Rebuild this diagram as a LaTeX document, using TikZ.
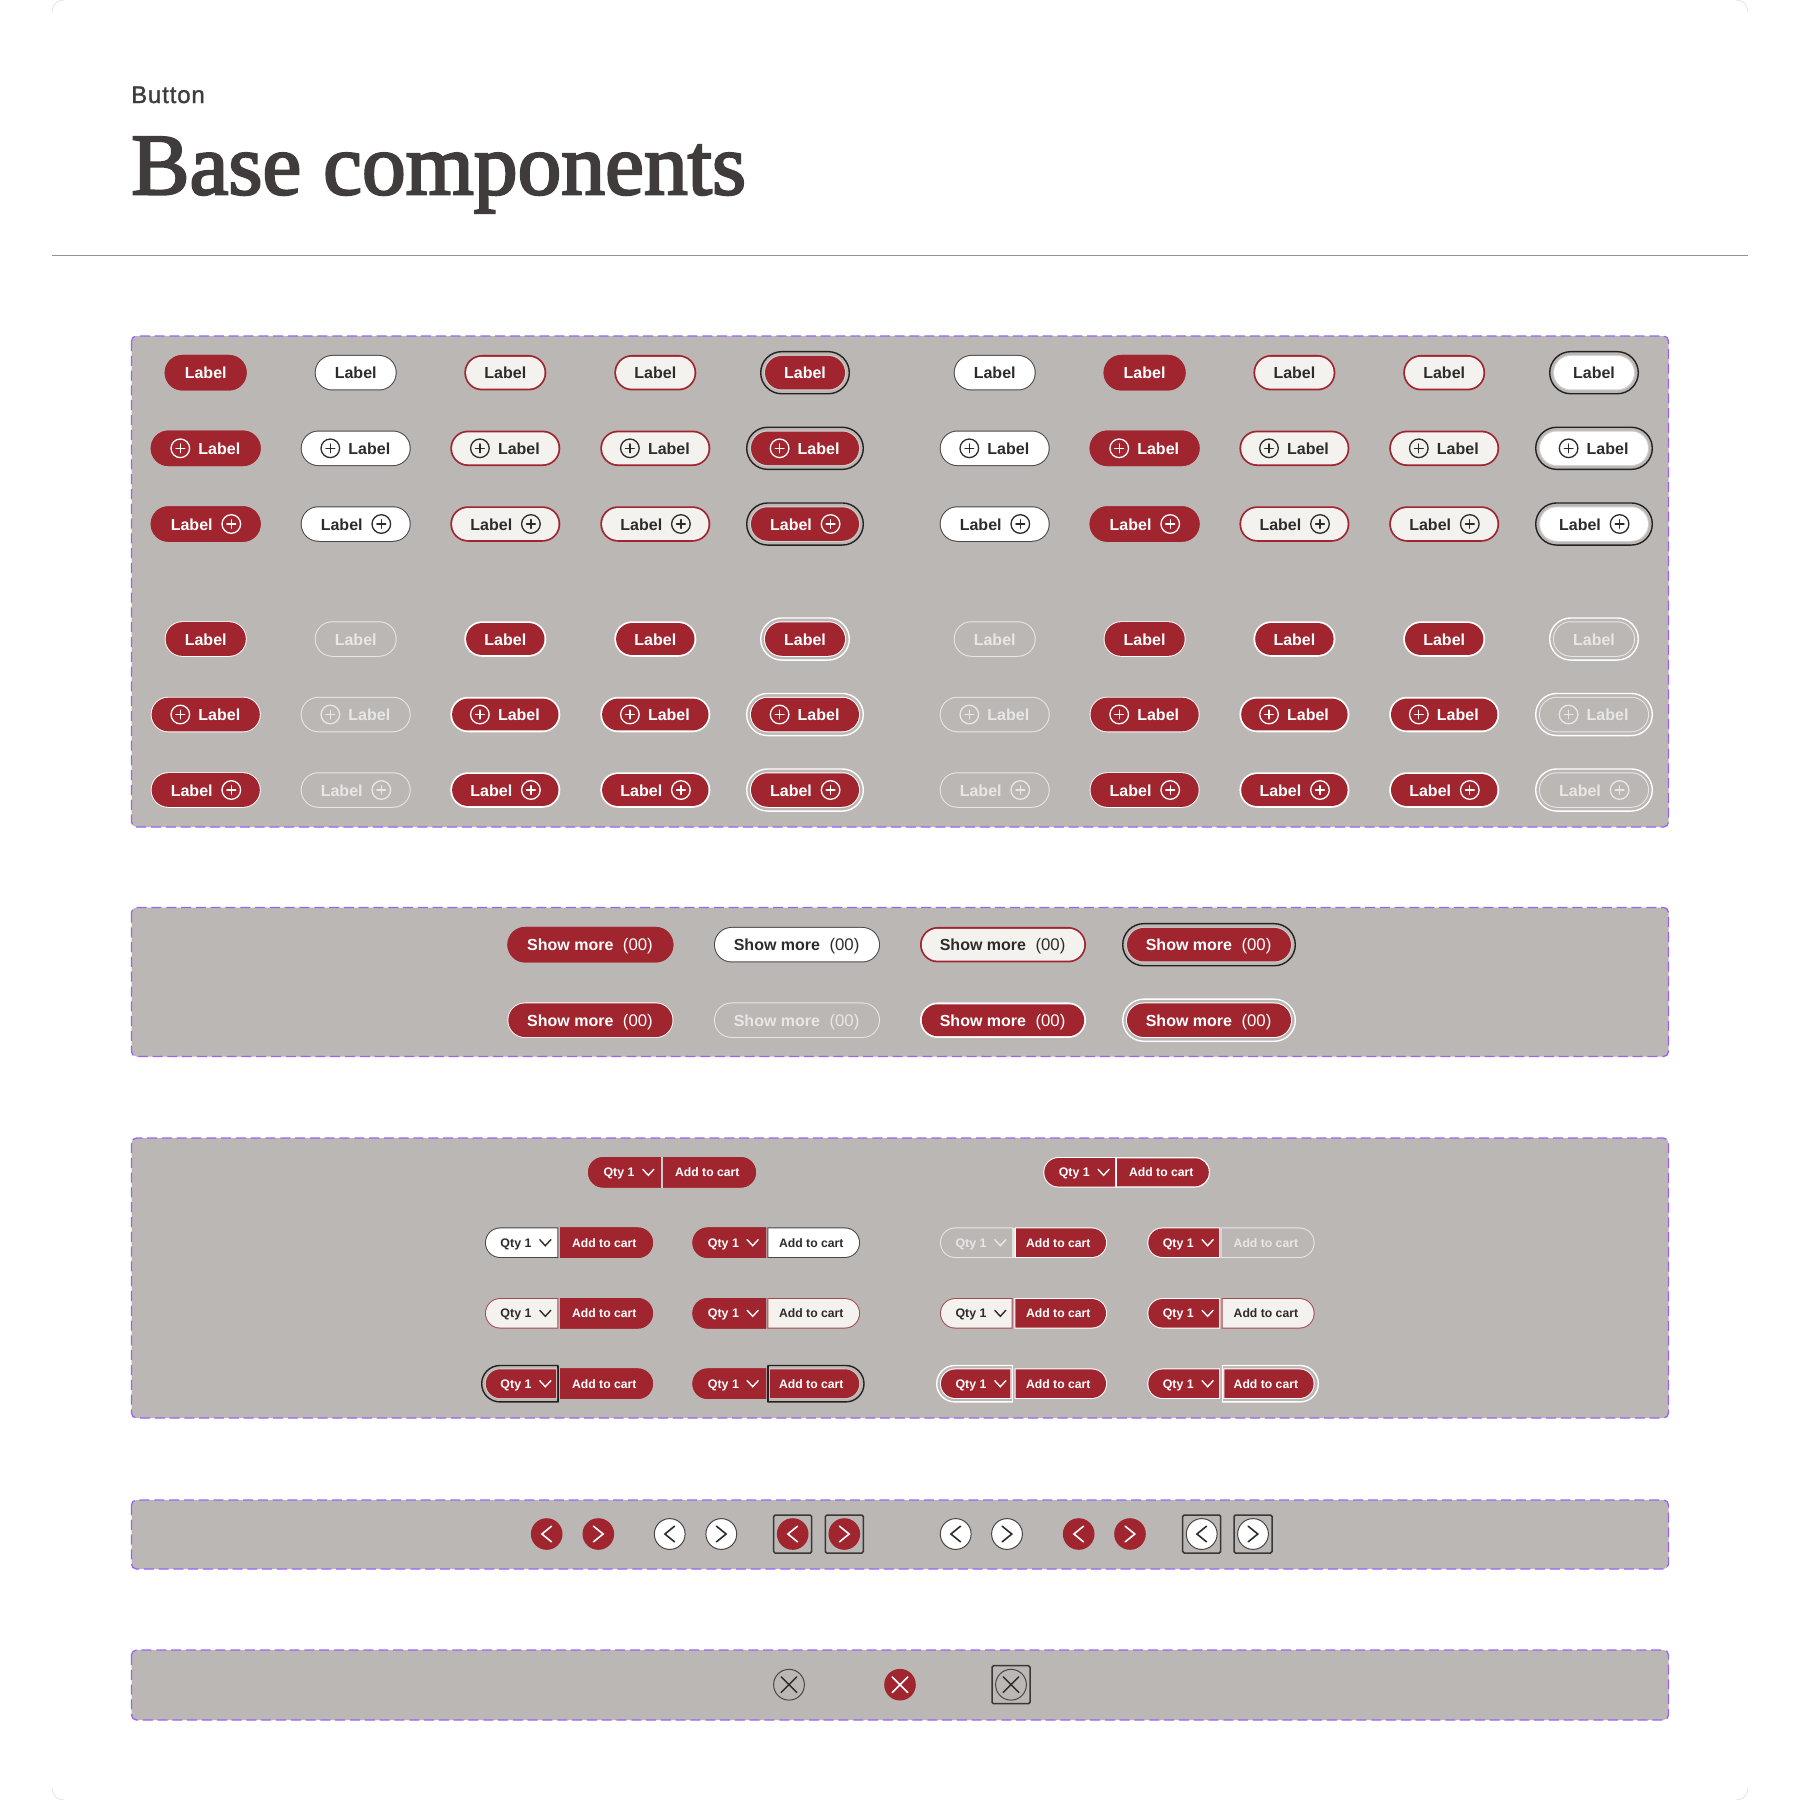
\documentclass[tikz,border=0pt]{standalone}
\usepackage{fontspec}
\setmainfont{Liberation Sans}
\newfontfamily\ttl[FakeBold=2.6]{Liberation Serif}
\newfontfamily\ui{Liberation Sans}
\newfontfamily\kick[FakeBold=1.4,LetterSpace=3.5]{Liberation Sans}
\definecolor{panelc}{HTML}{BBB7B5}
\definecolor{redc}{HTML}{A0252F}
\definecolor{darkb}{HTML}{4A4646}
\definecolor{darkt}{HTML}{2E2B2B}
\definecolor{offc}{HTML}{F3F2EF}
\definecolor{disc}{HTML}{E9E7E6}
\definecolor{dashc}{HTML}{9B63F5}
\definecolor{gapc}{HTML}{D2CFCE}
\definecolor{ringd}{HTML}{242121}
\definecolor{ttlc}{HTML}{403C3B}
\newcounter{nn}
\tikzset{
  panelbox/.style={fill=panelc,draw=dashc,line width=1.3pt,dash pattern=on 10pt off 4.8pt,rounded corners=5pt},
  txt/.style={inner sep=0pt,anchor=base},
  iconline/.style={line width=1.3pt,line cap=round},
  chev/.style={line width=1.4pt,line cap=round,line join=miter},
}
% rounded pill from corners
\newcommand\rr[5]{\pgfmathsetmacro\rrad{((#5)-(#3))/2-0.02}\path[#1,rounded corners=\rrad pt](#2,#3) rectangle (#4,#5);}
% border colour, fill colour, border width, cx, cy, w, h
\newcommand\pillb[7]{%
  \pgfmathsetmacro\xa{#4-#6/2}\pgfmathsetmacro\xb{#4+#6/2}%
  \pgfmathsetmacro\ya{#5-#7/2}\pgfmathsetmacro\yb{#5+#7/2}%
  \rr{fill=#1}{\xa}{\ya}{\xb}{\yb}%
  \pgfmathsetmacro\xa{\xa+#3}\pgfmathsetmacro\xb{\xb-#3}%
  \pgfmathsetmacro\ya{\ya+#3}\pgfmathsetmacro\yb{\yb-#3}%
  \rr{fill=#2}{\xa}{\ya}{\xb}{\yb}}
% ring: colour, cx, cy, w (button), h (button), offset of the ring's outer edge
\newcommand\ringb[6]{%
  \pgfmathsetmacro\xa{#2-#4/2-#6+0.7}\pgfmathsetmacro\xb{#2+#4/2+#6-0.7}%
  \pgfmathsetmacro\ya{#3-#5/2-#6+0.7}\pgfmathsetmacro\yb{#3+#5/2+#6-0.7}%
  \rr{draw=#1,line width=1.4pt}{\xa}{\ya}{\xb}{\yb}}
% button kinds: cx cy w h
\newcommand\btnr[4]{\colorlet{tc}{white}\pillb{redc}{redc}{0}{#1}{#2}{#3}{#4}}
\newcommand\btnw[4]{\colorlet{tc}{darkt}\pillb{darkb}{white}{1}{#1}{#2}{#3}{#4}}
\newcommand\btno[4]{\colorlet{tc}{darkt}\pillb{redc}{offc}{1.8}{#1}{#2}{#3}{#4}}
\newcommand\btnf[4]{\colorlet{tc}{white}\ringb{ringd}{#1}{#2}{#3}{#4}{4}\pillb{gapc}{redc}{1}{#1}{#2}{#3}{#4}}
\newcommand\btnW[4]{\colorlet{tc}{darkt}\ringb{ringd}{#1}{#2}{#3}{#4}{4}\pillb{gapc}{white}{1}{#1}{#2}{#3}{#4}}
\newcommand\btnt[4]{\colorlet{tc}{white}\pillb{white}{redc}{0.9}{#1}{#2}{#3}{#4}}
\newcommand\btnT[4]{\colorlet{tc}{white}\pillb{white}{redc}{1.8}{#1}{#2}{#3}{#4}}
\newcommand\btnd[4]{\colorlet{tc}{disc}\pillb{disc}{panelc}{1}{#1}{#2}{#3}{#4}}
\newcommand\btnF[4]{\colorlet{tc}{white}\ringb{white}{#1}{#2}{#3}{#4}{4}\pillb{white}{redc}{1}{#1}{#2}{#3}{#4}}
\newcommand\btnD[4]{\colorlet{tc}{disc}\ringb{white}{#1}{#2}{#3}{#4}{4}\pillb{disc}{panelc}{1}{#1}{#2}{#3}{#4}}
% text pieces
\newcommand\lab[3]{\stepcounter{nn}\node[txt,text=tc,font=\ui\bfseries\fontsize{16}{18}\selectfont] (t\thenn) at (#1,#2+6.1) {#3};}
\newcommand\plusicon[2]{%
  \draw[tc,line width=1.3pt] (#1,#2) circle[radius=9.3];
  \draw[tc,iconline] (#1-4.4,#2) -- (#1+4.4,#2) (#1,#2-4.4) -- (#1,#2+4.4);}
\newcommand\bA[3]{\csname btn#1\endcsname{#2}{#3}{82}{35.5}\lab{#2}{#3}{Label}}
\newcommand\bB[3]{\csname btn#1\endcsname{#2}{#3}{110}{35.5}\plusicon{#2-25.4}{#3}\lab{#2+13.6}{#3}{Label}}
\newcommand\bC[3]{\csname btn#1\endcsname{#2}{#3}{110}{35.5}\lab{#2-14}{#3}{Label}\plusicon{#2+25.6}{#3}}
\newcommand\bS[3]{\csname btn#1\endcsname{#2}{#3}{166}{35.5}%
  \stepcounter{nn}\node[txt,anchor=base west,text=tc,font=\ui\bfseries\fontsize{16}{18}\selectfont] (t\thenn) at (#2-63.4,#3+6.1) {Show more};
  \stepcounter{nn}\node[txt,anchor=base east,text=tc,font=\ui\fontsize{16.8}{18}\selectfont] (t\thenn) at (#2+62.6,#3+6.1) {(00)};}
% split control halves: border, fill, b, x0, x1, cy, text colour
\newcommand\qtyh[7]{%
  \begin{scope}\clip (#4-1,#6-16) rectangle (#5,#6+16);
    \rr{fill=#1}{#4}{#6-15.25}{#5+40}{#6+15.25}\end{scope}
  \begin{scope}\clip (#4-1,#6-16) rectangle (#5-#3,#6+16);
    \rr{fill=#2}{#4+#3}{#6-15.25+#3}{#5+40}{#6+15.25-#3}\end{scope}
  \stepcounter{nn}\node[txt,text=#7,font=\ui\bfseries\fontsize{12.4}{14}\selectfont] (t\thenn) at (#4+31,#6+4.6) {Qty 1};
  \draw[#7,chev] (#4+54.8,#6-3) -- (#4+60.3,#6+3) -- (#4+65.8,#6-3);}
\newcommand\carth[7]{%
  \begin{scope}\clip (#4,#6-16) rectangle (#5+1,#6+16);
    \rr{fill=#1}{#4-40}{#6-15.25}{#5}{#6+15.25}\end{scope}
  \begin{scope}\clip (#4+#3,#6-16) rectangle (#5+1,#6+16);
    \rr{fill=#2}{#4-40}{#6-15.25+#3}{#5-#3}{#6+15.25-#3}\end{scope}
  \stepcounter{nn}\node[txt,text=#7,font=\ui\bfseries\fontsize{12.2}{14}\selectfont] (t\thenn) at (#5-48.7,#6+4.6) {Add to cart};}
\newcommand\ringl[4]{% colour x0 x1 cy
  \begin{scope}\clip (#2-2,#4-20) rectangle (#3,#4+20);
    \rr{draw=#1,line width=1.4pt}{#2}{#4-18.2}{#3+40}{#4+18.2}\end{scope}
  \draw[#1,line width=1.4pt] (#3-.7,#4-18.2) -- (#3-.7,#4+18.2);}
\newcommand\ringr[4]{% colour x0 x1 cy
  \begin{scope}\clip (#2,#4-20) rectangle (#3+2,#4+20);
    \rr{draw=#1,line width=1.4pt}{#2-40}{#4-18.2}{#3}{#4+18.2}\end{scope}
  \draw[#1,line width=1.4pt] (#2+.7,#4-18.2) -- (#2+.7,#4+18.2);}
% round buttons
\newcommand\navr[3]{\fill[redc] (#2,#3) circle[radius=15.8];
  \draw[white,chev,line width=1.6pt] (#2+#1*4.8,#3-7.8) -- (#2-#1*4.8,#3) -- (#2+#1*4.8,#3+7.8);}
\newcommand\navw[3]{\draw[darkb,fill=white,line width=1pt] (#2,#3) circle[radius=15.4];
  \draw[darkt,chev,line width=1.6pt] (#2+#1*4.8,#3-7.8) -- (#2-#1*4.8,#3) -- (#2+#1*4.8,#3+7.8);}
\newcommand\focsq[2]{\draw[ringd!90,line width=1.5pt,rounded corners=1.5pt] (#1-19,#2-19) rectangle (#1+19,#2+19);}
\begin{document}
\begin{tikzpicture}[x=1pt,y=-1pt]
\useasboundingbox (0,0) rectangle (1800,1800);
\fill[white] (0,0) rectangle (1800,1800);
% faint page corners
\draw[gray!25,line width=.6pt] (52,12) .. controls (52,5) and (57,0) .. (64,0);
\draw[gray!25,line width=.6pt] (1748,12) .. controls (1748,5) and (1743,0) .. (1736,0);
\draw[gray!25,line width=.6pt] (52,1788) .. controls (52,1795) and (57,1800) .. (64,1800);
\draw[gray!25,line width=.6pt] (1748,1788) .. controls (1748,1795) and (1743,1800) .. (1736,1800);
% header
\node[txt,anchor=base west,text=ttlc,font=\kick\fontsize{24}{28}\selectfont] (kicker) at (131,103) {Button};
\node[txt,anchor=base west,text=ttlc,font=\ttl\fontsize{87.5}{96}\selectfont] (title) at (131,194.3) {Base components};
\draw[black!42,line width=1.1pt] (52,255.5) -- (1748,255.5);
% panels
\path[panelbox] (131.5,336) rectangle (1668.5,827);
\path[panelbox] (131.5,907.5) rectangle (1668.5,1056.5);
\path[panelbox] (131.5,1138) rectangle (1668.5,1418);
\path[panelbox] (131.5,1500) rectangle (1668.5,1569);
\path[panelbox] (131.5,1650) rectangle (1668.5,1720);
% first block
\foreach \k/\x in {r/205.7,w/355.7,o/505.3,o/655.3,f/805,w/994.7,r/1144.6,o/1294.4,o/1444.2,W/1594}{
  \bA{\k}{\x}{372.7}\bB{\k}{\x}{448.3}\bC{\k}{\x}{524}}
\foreach \k/\x in {t/205.7,d/355.7,T/505.3,T/655.3,F/805,d/994.7,t/1144.6,T/1294.4,T/1444.2,D/1594}{
  \bA{\k}{\x}{639}\bB{\k}{\x}{714.5}\bC{\k}{\x}{790}}
% show more
\foreach \k/\x in {r/590.4,w/797,o/1003,f/1209}{\bS{\k}{\x}{944.7}}
\foreach \k/\x in {t/590.4,d/797,T/1003,F/1209}{\bS{\k}{\x}{1020.2}}
% split controls, first row
\qtyh{redc}{redc}{0}{588}{661.4}{1172.3}{white}
\carth{redc}{redc}{0}{662.6}{756}{1172.3}{white}
\fill[gapc] (661.4,1157) rectangle (662.6,1187.5);
\qtyh{white}{redc}{1}{1043.3}{1116}{1172.3}{white}
\carth{white}{redc}{1.2}{1116}{1210}{1172.3}{white}
% left group
\qtyh{darkb}{white}{1}{485}{558.4}{1242.7}{darkt}
\carth{redc}{redc}{0}{560}{653}{1242.7}{white}
\qtyh{redc}{redc}{0}{692.4}{766}{1242.7}{white}
\carth{darkb}{white}{1}{767.4}{860}{1242.7}{darkt}
\qtyh{redc!75!panelc}{offc}{1}{485}{558.4}{1313.3}{darkt}
\carth{redc}{redc}{0}{560}{653}{1313.3}{white}
\qtyh{redc}{redc}{0}{692.4}{766}{1313.3}{white}
\carth{redc!75!panelc}{offc}{1}{767.4}{860}{1313.3}{darkt}
\ringl{ringd}{481.7}{558.6}{1383.7}
\qtyh{gapc}{redc}{.8}{485}{557}{1383.7}{white}
\carth{redc}{redc}{0}{560}{653}{1383.7}{white}
\qtyh{redc}{redc}{0}{692.4}{766}{1383.7}{white}
\ringr{ringd}{767.3}{864}{1383.7}
\carth{gapc}{redc}{.8}{769}{860}{1383.7}{white}
% right group
\qtyh{disc}{panelc}{1}{940}{1013.2}{1242.7}{disc}
\fill[disc] (1012.6,1227.5) rectangle (1015.2,1258);
\carth{white}{redc}{1}{1015}{1107}{1242.7}{white}
\qtyh{white}{redc}{1}{1147.3}{1220}{1242.7}{white}
\carth{disc}{panelc}{1}{1220.6}{1314.6}{1242.7}{disc}
\qtyh{redc!75!panelc}{offc}{1}{940}{1012.6}{1313.3}{darkt}
\carth{white}{redc}{1}{1014.4}{1107}{1313.3}{white}
\qtyh{white}{redc}{1}{1147.3}{1220}{1313.3}{white}
\carth{redc!75!panelc}{offc}{1}{1221.6}{1314.6}{1313.3}{darkt}
\ringl{white}{936.7}{1013}{1383.7}
\qtyh{white}{redc}{1}{940}{1011.4}{1383.7}{white}
\carth{white}{redc}{1}{1014.6}{1107}{1383.7}{white}
\qtyh{white}{redc}{1}{1147.3}{1220}{1383.7}{white}
\ringr{white}{1221.7}{1318.3}{1383.7}
\carth{white}{redc}{1}{1223.4}{1314.6}{1383.7}{white}
% navigation
\navr{1}{546.7}{1534}\navr{-1}{598.3}{1534}
\navw{1}{669.7}{1534}\navw{-1}{721.3}{1534}
\focsq{792.7}{1534}\navr{1}{792.7}{1534}
\focsq{844.3}{1534}\navr{-1}{844.3}{1534}
\navw{1}{955.7}{1534}\navw{-1}{1007}{1534}
\navr{1}{1078.7}{1534}\navr{-1}{1130}{1534}
\focsq{1201.7}{1534}\navw{1}{1201.7}{1534}
\focsq{1253}{1534}\navw{-1}{1253}{1534}
% close
\draw[darkb,line width=1pt] (789,1684.7) circle[radius=15.4];
\draw[darkt,line width=1.4pt,line cap=round] (781.2,1676.9) -- (796.8,1692.5) (781.2,1692.5) -- (796.8,1676.9);
\fill[redc] (900,1684.7) circle[radius=15.8];
\draw[white,line width=1.6pt,line cap=round] (892.2,1676.9) -- (907.8,1692.5) (892.2,1692.5) -- (907.8,1676.9);
\focsq{1011}{1684.7}
\draw[darkb,line width=1pt] (1011,1684.7) circle[radius=15.4];
\draw[darkt,line width=1.4pt,line cap=round] (1003.2,1676.9) -- (1018.8,1692.5) (1003.2,1692.5) -- (1018.8,1676.9);
\end{tikzpicture}
\end{document}
